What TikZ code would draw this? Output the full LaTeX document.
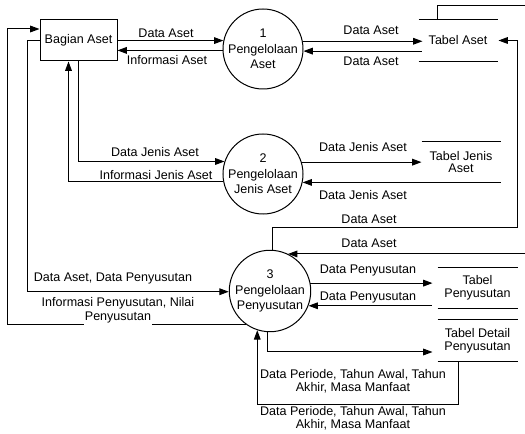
\documentclass[tikz,border=0pt]{standalone}
\usepackage{fontspec}
\setmainfont{Liberation Sans}
\usetikzlibrary{arrows.meta,calc}

\begin{document}
\begin{tikzpicture}[
  x=0.75pt, y=-0.75pt,
  font=\fontsize{9.4}{9.4}\selectfont,
  line width=0.75pt,
  arr/.style={-{Triangle[length=7pt,width=5pt]}},
  proc/.style={circle, draw, minimum size=60pt, inner sep=0pt, align=center,
               font=\fontsize{9.4}{11.6}\selectfont},
  store/.style={rectangle, inner sep=0pt, align=center},
  entity/.style={rectangle, draw, minimum width=57.75pt, minimum height=30.75pt},
  lbl/.style={inner sep=1pt, align=center}
]
\useasboundingbox (0,0) rectangle (525,434);

% external entity
\node[entity] (ba) at (78.5,40.5) {Bagian Aset};

% processes
\node[proc] (c1) at (263,49)  {1\\Pengelolaan\\Aset};
\node[proc] (c2) at (263,174) {2\\Pengelolaan\\Jenis Aset};
\node[proc] (c3) at (270,291) {3\\Pengelolaan\\Penyusutan};

% data stores
\node[store, minimum width=58.5pt,  minimum height=30.75pt] (ta) at (458,40.5)  {Tabel Aset};
\node[store, minimum width=58.5pt,  minimum height=30pt]    (tj) at (461,162)   {Tabel Jenis\\Aset};
\node[store, minimum width=59.25pt, minimum height=30pt]    (tp) at (477.5,288) {Tabel\\Penyusutan};
\node[store, minimum width=59.25pt, minimum height=30.75pt] (td) at (477.5,340.5) {Tabel Detail\\Penyusutan};
\foreach \s in {ta,tj,tp,td} {
  \draw (\s.north west) -- (\s.north east);
  \draw (\s.south west) -- (\s.south east);
}

% Bagian Aset <-> process 1
\draw[arr] (ba.east |- c1.168.5) -- (c1.168.5);
\draw[arr] (c1.182.9) -- (ba.east |- c1.182.9);

% process 1 <-> Tabel Aset
\draw[arr] (c1.11.5) -- ($(ta.west |- c1.11.5)+(4,0)$);
\draw[arr] ($(ta.west |- c1.357.1)+(3,0)$) -- (c1.357.1);

% Bagian Aset <-> process 2
\draw[arr] (ba.south) |- (c2.162.5);
\draw[arr] (c2.191.5) -| ($(ba.south)+(-10,0)$);

% process 2 <-> Tabel Jenis Aset
\draw[arr] (c2.17.5) -- (tj.west |- c2.17.5);
\draw[arr] (tj.west |- c2.348.5) -- (c2.348.5);

% Bagian Aset <-> process 3
\draw[arr] (ba.west) -- ++(-12,0) |- (c3.181.4);
\draw[arr] (c3.235.6) -| ($(ba.west)+(-32,-11.5)$) -- ($(ba.west)+(0,-11.5)$);

% Tabel Aset -> process 3, routed round the right edge
\coordinate (rt) at (540,6);
\draw[arr] ($(ta.north west)+(19,0)$) |- (rt) |- (c3.64.2);

% process 3 -> Tabel Aset
\coordinate (rb) at (517,228);
\draw[arr] (c3.87.1) |- (rb) |- ($(ta.east)+(1,0)$);

% process 3 <-> Tabel Penyusutan
\draw[arr] (c3.11.5) -- ($(tp.west |- c3.11.5)+(-5,0)$);
\draw[arr] ($(tp.west |- c3.339.5)+(-6,0)$) -- (c3.339.5);

% process 3 <-> Tabel Detail Penyusutan
\draw[arr] (c3.267.1) |- ($(td.west)+(-5,11.5)$);
\draw[arr] ($(td.south)+(-19.5,0)$) -- ++(0,43) -| (c3.252.5);

% flow labels
\node[lbl] (l1)  at (166,33)  {Data Aset};
\node[lbl] (l2)  at (167,60)  {Informasi Aset};
\node[lbl] (l3)  at (371,30)  {Data Aset};
\node[lbl] (l4)  at (371,61)  {Data Aset};
\node[lbl] (l5)  at (155,152) {Data Jenis Aset};
\node[lbl] (l6)  at (156,175) {Informasi Jenis Aset};
\node[lbl] (l7)  at (363,147) {Data Jenis Aset};
\node[lbl] (l8)  at (363,195) {Data Jenis Aset};
\node[lbl] (l9)  at (369,219) {Data Aset};
\node[lbl] (l10) at (369,243) {Data Aset};
\node[lbl] (l11) at (113,278) {Data Aset, Data Penyusutan};
\node[lbl] (l12) at (118,303) {Informasi Penyusutan, Nilai};
\node[lbl, fill=white, inner ysep=1.5pt] (l12b) at (118,317) {Penyusutan};
\node[lbl] (l13) at (368,270) {Data Penyusutan};
\node[lbl] (l14) at (368,297) {Data Penyusutan};
\node[lbl] (l15) at (353,381) {Data Periode, Tahun Awal, Tahun\\Akhir, Masa Manfaat};
\node[lbl] (l16) at (353,418.5) {Data Periode, Tahun Awal, Tahun\\Akhir, Masa Manfaat};
\end{tikzpicture}
\end{document}
